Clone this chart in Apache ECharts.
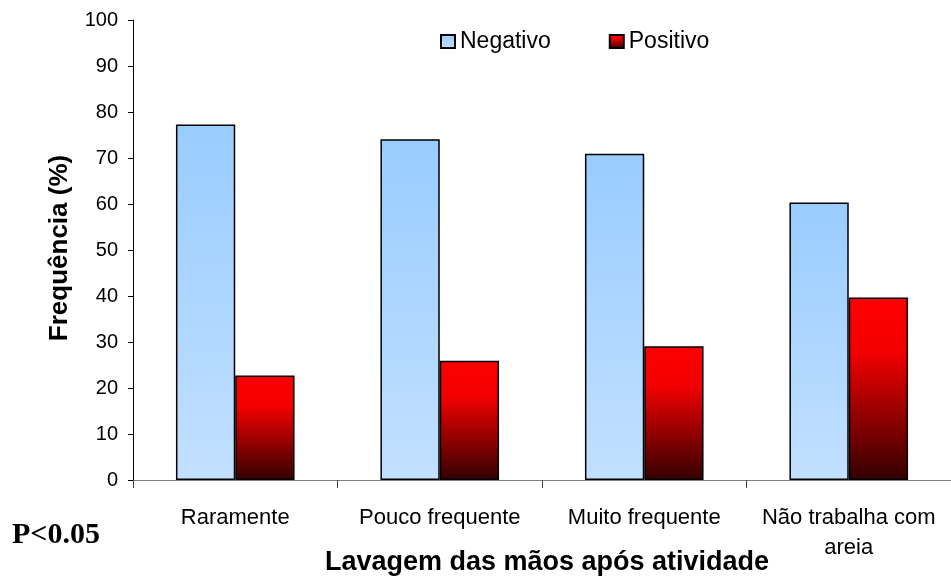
<!DOCTYPE html>
<html><head><meta charset="utf-8">
<script src="https://cdn.jsdelivr.net/npm/echarts@6/dist/echarts.min.js"></script>
<style>html,body{margin:0;padding:0;background:#fff}#c{width:951px;height:576px}</style>
</head><body><div id="c"></div>
<script>
const categories = ['Raramente', 'Pouco frequente', 'Muito frequente', 'Não trabalha com\nareia'];
const negativo = [77.3, 74.1, 70.9, 60.3];
const positivo = [22.7, 25.9, 29.1, 39.7];
const yTicks = {min: 0, max: 100, interval: 10};

const chart = echarts.init(document.getElementById('c'));
const font = '"Liberation Sans", Arial, sans-serif';
chart.setOption({
  animation: false,
  backgroundColor: '#fff',
  textStyle: {fontFamily: font},
  grid: {left: 133, top: 20, width: 826, height: 460, containLabel: false},
  legend: {
    top: 30, left: 440, itemWidth: 14, itemHeight: 13, itemGap: 58, padding: 0,
    icon: 'rect',
    textStyle: {fontSize: 23, color: '#000', fontFamily: font},
    data: ['Negativo', 'Positivo']
  },
  graphic: [
    {type: 'text', x: 547, y: 563, style: {text: 'Lavagem das mãos após atividade', font: 'bold 27px ' + font, fill: '#000', textAlign: 'center', textVerticalAlign: 'middle'}},
    {type: 'text', x: 12, y: 535, style: {text: 'P<0.05', font: 'bold 30px "Liberation Serif", "Times New Roman", serif', fill: '#000', textAlign: 'left', textVerticalAlign: 'middle'}},
    {type: 'text', x: 60, y: 248, rotation: Math.PI/2, style: {text: 'Frequência (%)', font: 'bold 26px ' + font, fill: '#000', textAlign: 'center', textVerticalAlign: 'middle'}}
  ],
  xAxis: {
    type: 'category', data: categories,
    axisLine: {lineStyle: {color: '#808080', width: 1}},
    axisTick: {show: true, length: 8, lineStyle: {color: '#444'}},
    axisLabel: {fontSize: 22, color: '#000', margin: 23, lineHeight: 30, interval: 0, fontFamily: font}
  },
  yAxis: {
    type: 'value', min: yTicks.min, max: yTicks.max, interval: yTicks.interval,
    axisLine: {show: true, lineStyle: {color: '#000', width: 1}},
    axisTick: {show: true, length: 5, lineStyle: {color: '#000'}},
    splitLine: {show: false},
    axisLabel: {fontSize: 20, color: '#000', margin: 15, fontFamily: font}
  },
  series: [
    {name: 'Negativo', type: 'bar', data: negativo, barGap: '0%', barCategoryGap: '42%',
     itemStyle: {borderColor: '#000', borderWidth: 1.5,
       color: new echarts.graphic.LinearGradient(0, 0, 0, 1, [{offset: 0, color: '#99ccff'}, {offset: 1, color: '#c2e0ff'}])}},
    {name: 'Positivo', type: 'bar', data: positivo, barGap: '0%', barCategoryGap: '42%',
     itemStyle: {borderColor: '#000', borderWidth: 1.5,
       color: new echarts.graphic.LinearGradient(0, 0, 0, 1, [{offset: 0, color: '#ff0000'}, {offset: 0.3, color: '#f20000'}, {offset: 1, color: '#330000'}])}}
  ]
});
</script></body></html>
